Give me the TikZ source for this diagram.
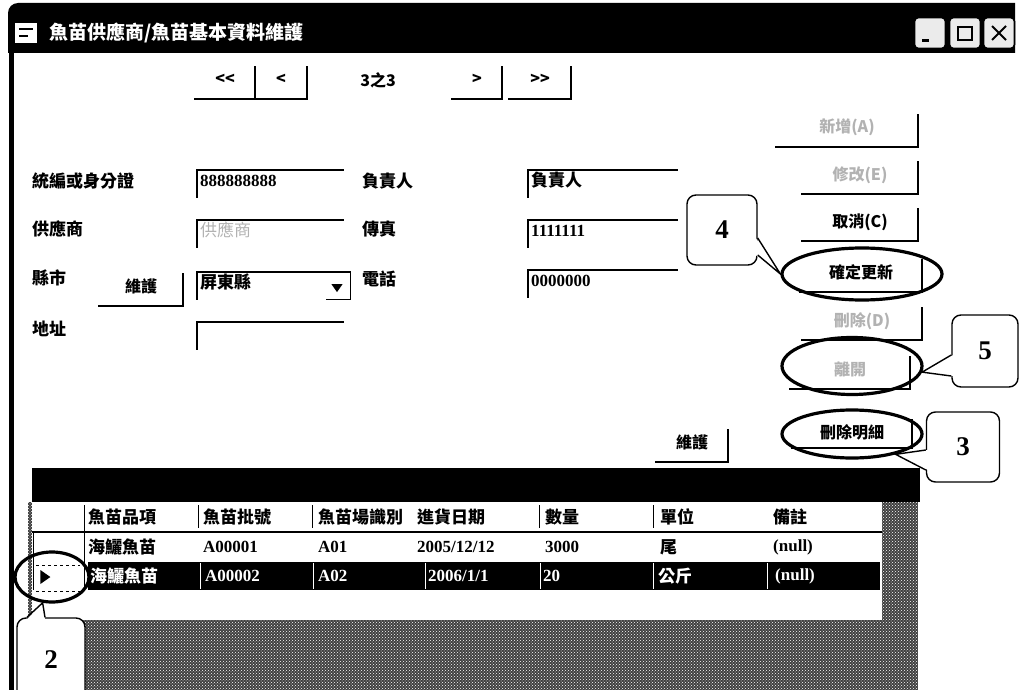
\documentclass[tikz,border=0pt]{standalone}
\usepackage{fontspec}
\setmainfont{Liberation Serif}
\newfontfamily\cjk{Noto Sans CJK TC}
\usepackage{tikz}
\usetikzlibrary{shapes.geometric}
\usetikzlibrary{patterns}
\tikzset{edgeln/.style={draw, line width=1.8pt, line cap=rect}}
\tikzset{
  lbl/.style={anchor=west, inner sep=0pt, font=\cjk\bfseries\fontsize{17}{18}\selectfont},
  dat/.style={anchor=west, inner sep=0pt, font=\bfseries\fontsize{17}{18}\selectfont},
  btn/.style={minimum width=#1, inner xsep=0pt, inner ysep=0pt, text height=18pt, text depth=14pt,
    font=\cjk\bfseries\fontsize{16}{17}\selectfont,
    append after command={(\tikzlastnode.north east) edge[edgeln] (\tikzlastnode.south east)
      (\tikzlastnode.south east) edge[edgeln] (\tikzlastnode.south west)}},
  fld/.style={anchor=north west, text width=#1, inner xsep=3pt, inner ysep=0pt, text height=16pt, text depth=11pt,
    font=\bfseries\fontsize{17}{18}\selectfont,
    append after command={(\tikzlastnode.south west) edge[edgeln] (\tikzlastnode.north west)
      (\tikzlastnode.north west) edge[edgeln] (\tikzlastnode.north east)}},
  ring/.style={ellipse, draw, line width=3.2pt, inner sep=0pt},
  tag/.style={draw, line width=1.4pt, rounded corners=9pt, fill=white, inner sep=0pt,
    font=\bfseries\fontsize{27}{28}\selectfont},
  ptr/.style={draw, line width=1.4pt},
  winbtn/.style={draw, line width=1.6pt, fill=black!8, rounded corners=4pt, minimum size=31pt, inner sep=0pt},
}

\begin{document}
\begin{tikzpicture}[x=1pt, y=-1pt]       % supplier form
    \useasboundingbox (0,0) rectangle (1020,690);

    % window frame
    \fill[black] (8,53) -- (8,13) arc[start angle=180, end angle=90, radius=10pt] -- (1015,3) -- (1015,53) -- cycle;
    \fill[black] (9,53) rectangle (14,690);
    \node[draw=white, fill=white, minimum width=21pt, minimum height=19pt, inner sep=0pt] at (26,33) (icon) {};
    \draw[line width=2pt] ([shift={(-7pt,4pt)}]icon.center) -- ([shift={(7pt,4pt)}]icon.center)
        ([shift={(-7pt,-3pt)}]icon.center) -- ([shift={(2pt,-3pt)}]icon.center);
    \node[anchor=west, text=white, font=\cjk\bfseries\fontsize{19}{20}\selectfont] at (46,33) (title) {魚苗供應商/魚苗基本資料維護};
    \node[winbtn] at (930,33) (wmin) {};
    \node[winbtn] at (965,33) (wmax) {};
    \node[winbtn] at (999,33) (wcls) {};
    \draw[line width=3pt] ([shift={(-8pt,-8pt)}]wmin.center) -- ([shift={(-1pt,-8pt)}]wmin.center);
    \draw[line width=1.6pt] ([shift={(-7pt,-7pt)}]wmax.center) rectangle ([shift={(7pt,6pt)}]wmax.center);
    \draw[line width=1.8pt] ([shift={(-7pt,-7pt)}]wcls.center) -- ([shift={(7pt,7pt)}]wcls.center)
        ([shift={(-7pt,7pt)}]wcls.center) -- ([shift={(7pt,-7pt)}]wcls.center);

    % navigation
    \node[btn=60pt] at (225,83) (first) {<<};
    \node[btn=52pt] at (281,83) (prev) {<};
    \node[font=\cjk\bfseries\fontsize{16}{17}\selectfont] at (378,80) (page) {3之3};
    \node[btn=50pt] at (477,83) (next) {>};
    \node[btn=61pt] at (540,83) (last) {>>};

    % fields
    \node[lbl] at (32,181) (Lid) {統編或身分證};
    \node[lbl] at (32,229) (Lsup) {供應商};
    \node[lbl] at (32,278) (Lcity) {縣市};
    \node[lbl] at (32,329) (Laddr) {地址};
    \node[lbl] at (362,181) (Lboss) {負責人};
    \node[lbl] at (362,229) (Lfax) {傳真};
    \node[lbl] at (362,279) (Ltel) {電話};

    \node[fld=140pt] at (197,170) (id) {888888888};
    \node[fld=140pt] at (197,220) (sup) {\cjk\mdseries\color{black!30}供應商};
    \node[fld=147pt] at (197,272) (city) {\cjk 屏東縣};
    \node[fld=140pt] at (197,322) (addr) {};
    \node[fld=143pt] at (528,170) (boss) {\cjk 負責人};
    \node[fld=143pt] at (528,220) (fax) {1111111};
    \node[fld=143pt] at (528,270) (tel) {0000000};
    \draw[edgeln] (city.north east) -- (city.south east) -- ([xshift=-24pt]city.south east);
    \node[isosceles triangle, shape border rotate=270, isosceles triangle apex angle=70, fill,
        minimum height=8pt, inner sep=0pt] at (337,287) (drop) {};
    \node[btn=83pt] at (141,290) (citybtn) {維護};

    % action buttons
    \node[btn=141pt] at (847,131) (add) {\color{black!30}新增(A)};
    \node[btn=115pt] at (860,178) (edit) {\color{black!30}修改(E)};
    \node[btn=115pt] at (860,225) (cancel) {取消(C)};
    \node[btn=122pt] at (861,276) (save) {確定更新};
    \node[btn=120pt] at (862,324) (del) {\color{black!30}刪除(D)};
    \node[btn=120pt] at (850,373) (quit) {\color{black!30}離開};
    \node[btn=120pt, text depth=10pt] at (852,434) (deldet) {刪除明細};
    \node[btn=71pt] at (692,446) (detbtn) {維護};

    % detail grid
    \fill[black!75] (28,502) rectangle (918,690);
    \fill[pattern=crosshatch dots, pattern color=white] (28,502) rectangle (918,690);
    \fill[white] (32,502) rectangle (882,620);
    \fill[black] (32,468) rectangle (920,502);
    \draw[line width=1pt] (84,505) -- (84,590) (198,505) -- (198,528) (312,505) -- (312,528)
        (539,505) -- (539,528) (653,505) -- (653,528) (33,532) -- (33,590);
    \draw[line width=1.2pt] (32,532) -- (882,532);

    \node[lbl] at (88,517) (h1) {魚苗品項};
    \node[lbl] at (203,517) (h2) {魚苗批號};
    \node[lbl] at (318,517) (h3) {魚苗場識別};
    \node[lbl] at (417,517) (h4) {進貨日期};
    \node[lbl] at (545,517) (h5) {數量};
    \node[lbl] at (660,517) (h6) {單位};
    \node[lbl] at (773,517) (h7) {備註};

    \node[lbl] at (88,547) (a1) {海鱺魚苗};
    \node[dat] at (203,547) (a2) {A00001};
    \node[dat] at (318,547) (a3) {A01};
    \node[dat] at (417,547) (a4) {2005/12/12};
    \node[dat] at (545,547) (a5) {3000};
    \node[lbl] at (660,547) (a6) {尾};
    \node[dat] at (773,547) (a7) {(null)};

    \node[fill, anchor=north west, minimum width=792pt, minimum height=28pt, inner sep=0pt] at (88,562) (sel) {};
    \draw[white, line width=1pt] (200,563) -- (200,589) (313,563) -- (313,589) (425,563) -- (425,589)
        (540,563) -- (540,589) (653,563) -- (653,589) (767,563) -- (767,589);
    \node[lbl, text=white] at (90,576) (b1) {海鱺魚苗};
    \node[dat, text=white] at (205,576) (b2) {A00002};
    \node[dat, text=white] at (318,576) (b3) {A02};
    \node[dat, text=white] at (428,576) (b4) {2006/1/1};
    \node[dat, text=white] at (543,576) (b5) {20};
    \node[lbl, text=white] at (658,576) (b6) {公斤};
    \node[dat, text=white] at (775,576) (b7) {(null)};

    \node[isosceles triangle, isosceles triangle apex angle=70, fill, minimum height=10pt, inner sep=0pt] at (44,577) (ind) {};
    \draw[dashed, line width=1pt] (36,565) -- (80,565) (36,591) -- (80,591);

    % marks
    \node[ring, minimum width=160pt, minimum height=52pt] at (862,274) (ell4) {};
    \node[ring, minimum width=140pt, minimum height=57pt] at (852,366) (ell5) {};
    \node[ring, minimum width=140pt, minimum height=48pt] at (852,434) (ell3) {};
    \node[ring, minimum width=74pt, minimum height=50pt] at (52,577) (ell2) {};

    % callouts
    \node[tag, minimum width=70pt, minimum height=70pt] at (722,230) (c4) {4};
    \node[tag, minimum width=66pt, minimum height=72pt] at (985,351) (c5) {5};
    \node[tag, minimum width=73pt, minimum height=70pt] at (963,447) (c3) {3};
    \node[tag, minimum width=68pt, minimum height=84pt] at (51,660) (c2) {2};

    \fill[white] ([shift={(-2pt,-8pt)}]c4.east) -- (ell4.west) -- ([shift={(-2pt,-25pt)}]c4.east) -- cycle;
    \draw[ptr] ([yshift=-8pt]c4.east) -- (ell4.west) -- ([yshift=-25pt]c4.east);
    \fill[white] ([shift={(2pt,-4pt)}]c5.west) -- (ell5.-5) -- ([shift={(2pt,-25pt)}]c5.west) -- cycle;
    \draw[ptr] ([yshift=-4pt]c5.west) -- (ell5.-5) -- ([yshift=-25pt]c5.west);
    \fill[white] ([shift={(2pt,-3pt)}]c3.west) -- (ell3.-25) -- ([shift={(2pt,-23pt)}]c3.west) -- cycle;
    \draw[ptr] ([yshift=-3pt]c3.west) -- (ell3.-25) -- ([yshift=-23pt]c3.west);
    \fill[white] ([shift={(-24pt,-2pt)}]c2.north) -- (ell2.250) -- ([shift={(-6pt,-2pt)}]c2.north) -- cycle;
    \draw[ptr] ([xshift=-24pt]c2.north) -- (ell2.250) -- ([xshift=-6pt]c2.north);
\end{tikzpicture}
\end{document}
